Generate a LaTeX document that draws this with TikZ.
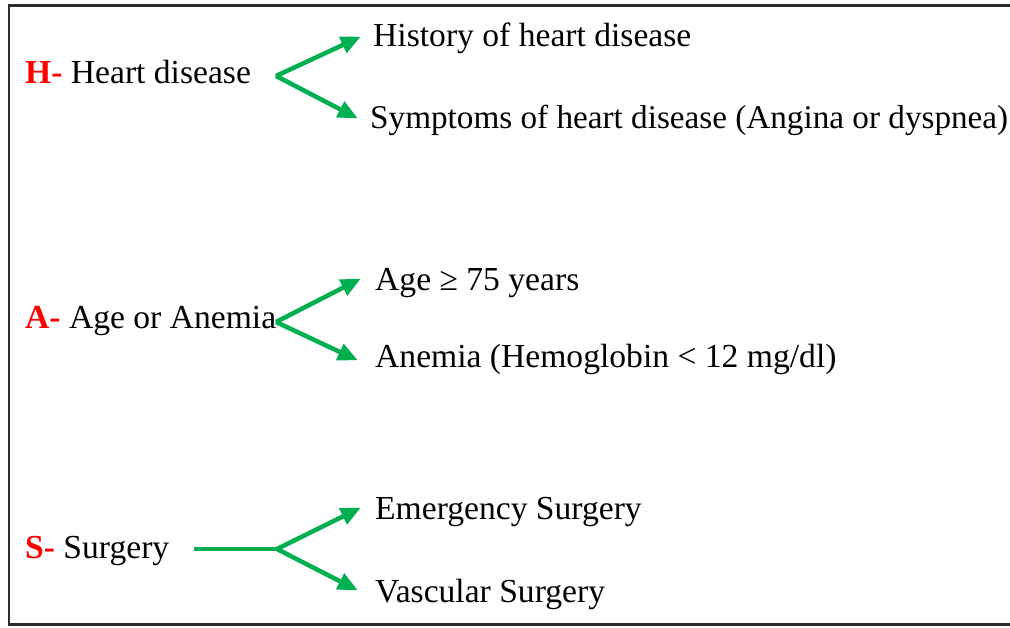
\documentclass[tikz,border=0pt]{standalone}
\usepackage{fontspec}
\setmainfont{Liberation Serif}
\usetikzlibrary{arrows.meta}
\definecolor{arrgreen}{RGB}{0,176,80}
\definecolor{hred}{RGB}{255,0,0}
\definecolor{frame}{RGB}{45,45,45}
\begin{document}
\begin{tikzpicture}[x=1pt,y=-1pt,
  lbl/.style={anchor=base west,inner sep=0pt,font=\fontsize{33.6}{36}\selectfont},
  conn/.style={draw=arrgreen,line width=4.5pt},
  arr/.style={conn,-{Triangle[length=20pt,width=17pt]},shorten >=-1pt}]
\useasboundingbox (0,0) rectangle (1010,627);
\draw[frame,line width=2.2pt] (9,5.5) rectangle (1030,624.5);
% H
\node[lbl] (h) at (25,83) {\textcolor{hred}{\textbf{H-}} Heart disease};
\node[lbl] (h1) at (373,46) {History of heart disease};
\node[lbl,font=\fontsize{33.2}{36}\selectfont] (h2) at (370,128) {Symptoms of heart disease (Angina or dyspnea)};
\coordinate (hj) at (276,76);
\coordinate (h1t) at (360,37);
\coordinate (h2t) at (357,118);
\draw[arr] (hj) -- (h1t);
\draw[arr] (hj) -- (h2t);
% A
\node[lbl] (a) at (25,328) {\textcolor{hred}{\textbf{A-}} Age or Anemia};
\node[lbl] (a1) at (375,290) {Age \symbol{"2265} 75 years};
\node[lbl] (a2) at (375,367) {Anemia (Hemoglobin < 12 mg/dl)};
\coordinate (aj) at (276,322);
\coordinate (a1t) at (360,279);
\coordinate (a2t) at (357,360);
\draw[arr] (aj) -- (a1t);
\draw[arr] (aj) -- (a2t);
% S
\node[lbl] (s) at (25,558) {\textcolor{hred}{\textbf{S-}} Surgery};
\node[lbl] (s1) at (375,519) {Emergency Surgery};
\node[lbl] (s2) at (375,602) {Vascular Surgery};
\coordinate (ss) at (194,549);
\coordinate (sj) at (277,549);
\coordinate (s1t) at (360,508);
\coordinate (s2t) at (357,590);
\draw[conn] (ss) -- (sj);
\draw[arr] (sj) -- (s1t);
\draw[arr] (sj) -- (s2t);
\end{tikzpicture}
\end{document}
